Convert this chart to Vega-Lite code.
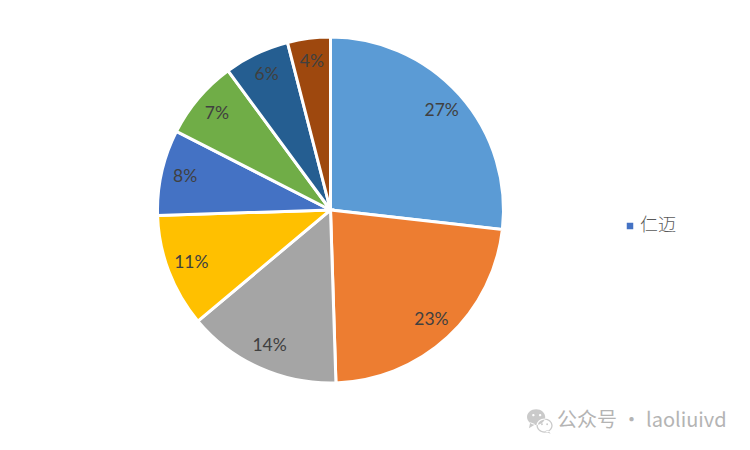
{"$schema":"https://vega.github.io/schema/vega-lite/v6.json","width":661,"height":420,"autosize":{"type":"none"},"padding":{"left":0,"top":0,"right":89,"bottom":30},"background":"#ffffff","view":{"stroke":null},"data":{"values":[{"category":"类别1","share":0.268,"rank":1},{"category":"类别2","share":0.227,"rank":2},{"category":"类别3","share":0.144,"rank":3},{"category":"类别4","share":0.106,"rank":4},{"category":"仁迈","share":0.08,"rank":5},{"category":"类别6","share":0.074,"rank":6},{"category":"类别7","share":0.061,"rank":7},{"category":"类别8","share":0.04,"rank":8}]},"layer":[{"mark":{"type":"arc","outerRadius":173,"stroke":"#ffffff","strokeWidth":3},"encoding":{"theta":{"field":"share","type":"quantitative","stack":true},"order":{"field":"rank","type":"ordinal"},"color":{"field":"category","type":"nominal","sort":null,"scale":{"domain":["类别1","类别2","类别3","类别4","仁迈","类别6","类别7","类别8"],"range":["#5B9BD5","#ED7D31","#A5A5A5","#FFC000","#4472C4","#70AD47","#255E91","#9E480E"]},"legend":{"title":null,"values":["仁迈"],"orient":"none","legendX":621,"legendY":217,"symbolType":"square","symbolSize":64,"labelFont":"Noto Sans CJK SC","labelFontSize":18,"labelFontWeight":300,"labelColor":"#595959","labelOffset":1}}}},{"mark":{"type":"text","radius":149,"font":"Lato","fontSize":17.5,"color":"#404040"},"encoding":{"theta":{"field":"share","type":"quantitative","stack":true},"order":{"field":"rank","type":"ordinal"},"text":{"field":"share","type":"quantitative","format":".0%"}}},{"mark":{"type":"point","filled":true,"size":0,"color":"#b4b4b4"},"encoding":{"shape":{"datum":"公众号 · laoliuivd","scale":{"range":["M-1,-0.3 A0.7,0.6 0 1 1 0.4,-0.3 A0.7,0.6 0 1 1 -1,-0.3 Z M-0.75,0.1 L-0.85,0.55 L-0.35,0.25 Z M-0.27,0.35 A0.62,0.55 0 1 0 0.97,0.35 A0.62,0.55 0 1 0 -0.27,0.35 Z M-0.17,0.35 A0.52,0.45 0 1 1 0.87,0.35 A0.52,0.45 0 1 1 -0.17,0.35 Z M0.6,0.7 L0.82,0.98 L0.35,0.78 Z M-0.6,-0.45 A0.09,0.09 0 1 0 -0.42,-0.45 A0.09,0.09 0 1 0 -0.6,-0.45 Z M-0.08,-0.45 A0.09,0.09 0 1 0 0.1,-0.45 A0.09,0.09 0 1 0 -0.08,-0.45 Z M0.08,0.25 A0.07,0.07 0 1 0 0.22,0.25 A0.07,0.07 0 1 0 0.08,0.25 Z M0.48,0.25 A0.07,0.07 0 1 0 0.62,0.25 A0.07,0.07 0 1 0 0.48,0.25 Z"]},"legend":{"title":null,"orient":"none","legendX":527,"legendY":408,"symbolSize":676,"symbolStrokeWidth":0,"labelFont":"Noto Sans CJK SC","labelFontSize":20,"labelColor":"#b4b4b4","labelOffset":4,"labelLimit":300}}}}],"resolve":{"legend":{"color":"independent"}}}
